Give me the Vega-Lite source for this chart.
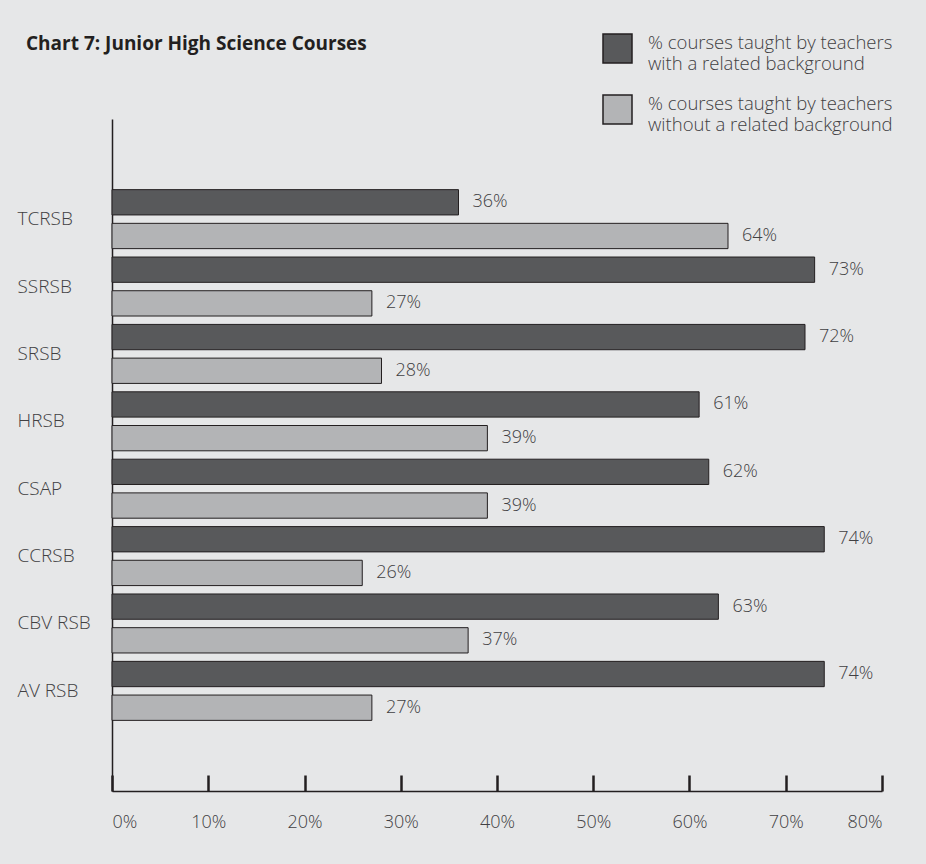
{
  "$schema": "https://vega.github.io/schema/vega-lite/v6.json",
  "width": 770,
  "height": 672,
  "autosize": {"type": "none"},
  "padding": {"left": 112, "top": 119, "right": 44, "bottom": 73},
  "background": "#e6e7e8",
  "config": {
    "view": {"stroke": null},
    "font": "Open Sans"
  },
  "title": {
    "text": "Chart 7: Junior High Science Courses",
    "anchor": "start",
    "frame": "group",
    "dx": -86,
    "offset": -21,
    "fontSize": 19,
    "fontWeight": "bold",
    "color": "#231f20",
    "font": "Open Sans"
  },
  "data": {
    "values": [
      {"district": "TCRSB", "series": "with", "value": 0.36},
      {"district": "TCRSB", "series": "without", "value": 0.64},
      {"district": "SSRSB", "series": "with", "value": 0.73},
      {"district": "SSRSB", "series": "without", "value": 0.27},
      {"district": "SRSB", "series": "with", "value": 0.72},
      {"district": "SRSB", "series": "without", "value": 0.28},
      {"district": "HRSB", "series": "with", "value": 0.61},
      {"district": "HRSB", "series": "without", "value": 0.39},
      {"district": "CSAP", "series": "with", "value": 0.62},
      {"district": "CSAP", "series": "without", "value": 0.39},
      {"district": "CCRSB", "series": "with", "value": 0.74},
      {"district": "CCRSB", "series": "without", "value": 0.26},
      {"district": "CBV RSB", "series": "with", "value": 0.63},
      {"district": "CBV RSB", "series": "without", "value": 0.37},
      {"district": "AV RSB", "series": "with", "value": 0.74},
      {"district": "AV RSB", "series": "without", "value": 0.27}
    ]
  },
  "encoding": {
    "y": {
      "field": "district",
      "type": "nominal",
      "sort": ["TCRSB", "SSRSB", "SRSB", "HRSB", "CSAP", "CCRSB", "CBV RSB", "AV RSB"],
      "scale": {"paddingInner": 0, "paddingOuter": 0.986},
      "axis": {
        "title": null,
        "ticks": false,
        "domain": true,
        "domainColor": "#231f20",
        "domainWidth": 1.5,
        "labelAlign": "left",
        "labelPadding": 95,
        "labelFontSize": 19,
        "labelFontWeight": 300,
        "labelColor": "#414042",
        "labelFont": "Open Sans"
      }
    },
    "yOffset": {
      "field": "series",
      "type": "nominal",
      "sort": ["with", "without"],
      "scale": {"paddingInner": 0.249, "paddingOuter": 0.1245}
    },
    "x": {
      "field": "value",
      "type": "quantitative",
      "scale": {"domain": [0, 0.8], "nice": false, "zero": true},
      "axis": {
        "title": null,
        "values": [0, 0.1, 0.2, 0.3, 0.4, 0.5, 0.6, 0.7, 0.8],
        "format": ".0%",
        "grid": false,
        "domainColor": "#231f20",
        "domainWidth": 1.5,
        "tickColor": "#231f20",
        "tickWidth": 2.5,
        "tickSize": -16,
        "labelPadding": 38,
        "labelFontSize": 18,
        "labelFontWeight": 300,
        "labelColor": "#414042",
        "labelFont": "Open Sans"
      }
    }
  },
  "layer": [
    {
      "mark": {"type": "bar", "stroke": "#231f20", "strokeWidth": 1},
      "encoding": {
        "color": {
          "field": "series",
          "type": "nominal",
          "scale": {"domain": ["with", "without"], "range": ["#58595b", "#b3b4b6"]},
          "legend": {
            "title": null,
            "orient": "none",
            "legendX": 490,
            "legendY": -86,
            "padding": 0,
            "symbolType": "square",
            "symbolSize": 841,
            "symbolStrokeColor": "#231f20",
            "symbolStrokeWidth": 1.5,
            "labelExpr": "datum.label == 'with' ? ['% courses taught by teachers', 'with a related background'] : ['% courses taught by teachers', 'without a related background']",
            "labelFontSize": 18.5,
            "labelFontWeight": 300,
            "labelBaseline": "alphabetic",
            "labelColor": "#414042",
            "labelFont": "Open Sans",
            "labelOffset": 15,
            "labelLimit": 400,
            "rowPadding": 19,
            "encode": {"labels": {"update": {"lineHeight": {"value": 21}}}}
          }
        }
      }
    },
    {
      "mark": {"type": "text", "align": "left", "baseline": "middle", "dx": 14, "fontSize": 18, "fontWeight": 300, "color": "#414042", "font": "Open Sans"},
      "encoding": {
        "text": {"field": "value", "type": "quantitative", "format": ".0%"},
        "detail": {"field": "series"}
      }
    }
  ]
}
